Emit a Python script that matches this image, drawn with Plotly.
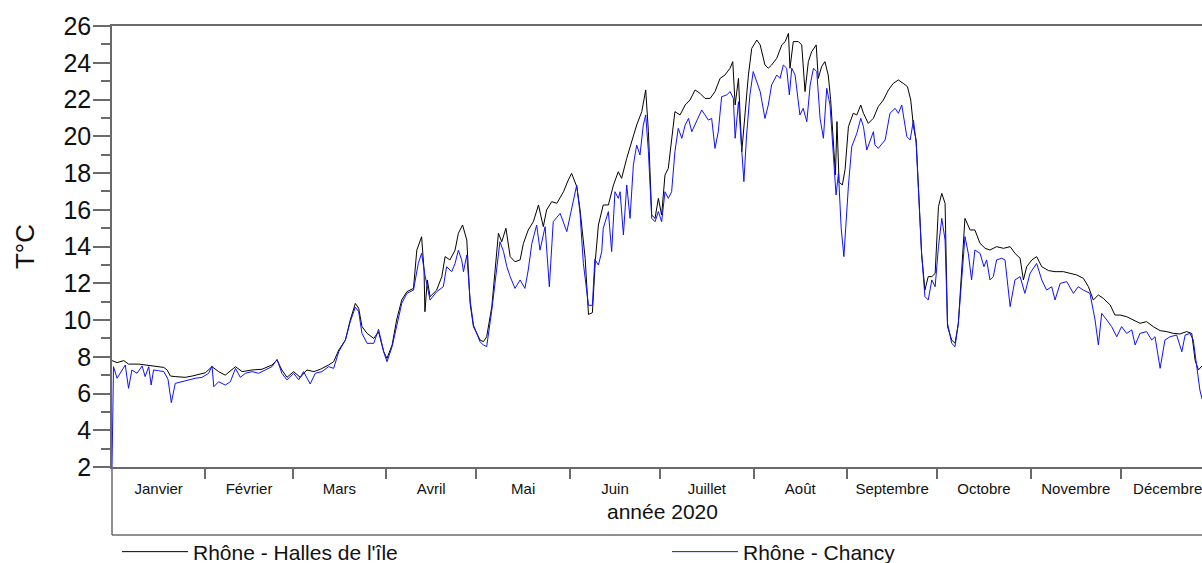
import pandas as pd
import plotly.graph_objects as go

# Rhône water temperature in 2020 at two stations.
# Days are counted from 1 January 2020 at 00:00 (0 = 1 Jan).
halles_day = [
    0, 1.7, 3.9, 5.5, 8.9, 11, 14.4, 17.2, 18.3, 19.4,
    21, 24.3, 26.6, 28.8, 31, 33.2, 35.4, 37.6, 39.8, 41,
    43.2, 46.5, 49.8, 53.1, 54.8, 56.4, 58.1, 60.3, 62.5, 64.7,
    67, 69.2, 71.9, 73.6, 75.3, 77.5, 79.1, 80.8, 81.9, 83,
    84.7, 86.9, 88.5, 90.2, 91.3, 93, 94.5, 96.2, 97.9, 100.1,
    101.2, 102.8, 103.6, 103.9, 104.7, 105.6, 107.8, 109.5, 110.6, 112.2,
    113.9, 115, 116.4, 117.8, 118.9, 120, 122.2, 123.3, 124.4, 126.1,
    127.2, 128.3, 129.4, 130.8, 132.2, 133.8, 135.5, 136.6, 138.2, 139.9,
    141.6, 143.2, 144.3, 146, 147.7, 149.9, 151.5, 152.6, 154.3, 155.4,
    157.1, 158.2, 159.5, 160.5, 161.5, 163.1, 164.8, 166.5, 168.1, 169.2,
    170.9, 172.6, 174.2, 175.9, 177.2, 178.1, 179.2, 180.3, 181.4, 182.5,
    183.6, 184.7, 185.8, 186.9, 188.6, 190.3, 191.9, 193.6, 195.2, 196.9,
    198.6, 200.2, 201.9, 203.5, 205.2, 206.1, 206.9, 208, 209.1, 210.2,
    211.3, 212.4, 214.1, 215.2, 216.8, 217.9, 219, 220.7, 222.4, 223.5,
    224.6, 225.1, 226.2, 227.9, 229, 230.1, 231.2, 232.3, 233.8, 234.5,
    235.6, 236.7, 237.8, 238.6, 239.5, 240.2, 240.7, 241.4, 242.5, 243.4,
    244.5, 246.1, 247.3, 248.6, 249.5, 251.1, 252.8, 254.4, 256.1, 257.8,
    259.4, 261.1, 262.7, 264.1, 265.2, 266.1, 267, 267.7, 268.8, 269.9,
    271, 272.2, 273.3, 274.4, 275.5, 276.6, 277.4, 278.8, 279.9, 281,
    282.1, 283.2, 284.9, 286.5, 288.2, 289.9, 291.5, 293.7, 296, 298.2,
    299.8, 301.5, 302.6, 303.7, 305.4, 307, 308.7, 310.9, 313.1, 315.9,
    318.1, 320.3, 322.5, 324.2, 325.8, 327.5, 329.1, 331.4, 333, 334.7,
    336.9, 339.1, 341.3, 343.5, 345.7, 348, 350.2, 352.4, 354.6, 356.8,
    358.5, 359.6, 360.7, 361.9,
]
halles_temp = [
    7.79, 7.68, 7.79, 7.6, 7.6, 7.55, 7.46, 7.42, 7.28, 6.95,
    6.92, 6.88, 6.95, 7.06, 7.13, 7.46, 7.19, 7.0, 7.28, 7.46,
    7.19, 7.28, 7.32, 7.55, 7.82, 7.28, 6.88, 7.19, 6.88, 7.28,
    7.19, 7.32, 7.55, 7.73, 8.37, 8.91, 10.0, 10.9, 10.64, 9.64,
    9.27, 9.0, 9.36, 8.28, 7.91, 8.64, 10.0, 11.09, 11.54, 11.72,
    13.8, 14.53, 12.72, 10.45, 12.18, 11.27, 11.63, 12.36, 13.45, 13.27,
    13.8, 14.72, 15.17, 14.35, 10.9, 9.64, 8.91, 8.82, 9.09, 10.72,
    12.72, 14.72, 14.26, 14.99, 13.45, 13.17, 13.27, 14.17, 14.9, 15.35,
    16.26, 15.08, 15.99, 16.44, 16.35, 16.98, 17.62, 17.98, 17.26, 16.0,
    13.35, 10.3, 10.4, 13.3, 15.17, 16.26, 16.26, 17.35, 18.07, 17.71,
    18.8, 19.71, 20.61, 21.34, 22.52, 20.25, 15.71, 15.53, 16.62, 15.71,
    17.89, 18.25, 19.71, 21.34, 21.16, 21.7, 21.97, 22.52, 22.34, 22.06,
    22.06, 22.43, 23.15, 23.33, 23.7, 24.06, 21.7, 23.15, 19.16, 21.16,
    23.33, 24.78, 25.24, 24.97, 23.88, 23.7, 23.88, 24.24, 24.97, 25.15,
    25.6, 23.7, 25.15, 25.15, 24.97, 22.43, 24.06, 24.6, 24.97, 23.15,
    23.79, 24.06, 23.33, 22.0, 19.6, 17.9, 20.8, 17.5, 17.35, 18.2,
    20.52, 21.25, 21.16, 21.7, 21.25, 20.7, 20.98, 21.61, 21.97, 22.52,
    22.88, 23.06, 22.88, 22.7, 21.97, 20.52, 19.8, 17.26, 13.63, 11.63,
    12.36, 12.36, 12.54, 16.17, 16.89, 16.35, 9.64, 8.91, 8.73, 9.82,
    12.9, 15.53, 14.9, 14.9, 14.17, 13.9, 13.81, 13.99, 13.9, 13.99,
    13.63, 13.36, 12.18, 12.9, 13.27, 13.45, 12.9, 12.69, 12.63, 12.63,
    12.54, 12.45, 12.27, 11.81, 11.09, 11.36, 11.18, 10.82, 10.27, 10.27,
    10.18, 10.0, 9.82, 9.91, 9.64, 9.42, 9.37, 9.27, 9.24, 9.37,
    9.27, 7.82, 7.28, 7.5,
]

chancy_day = [
    0, 0.5, 1.7, 3.3, 4.4, 5.5, 6.6, 8.3, 10, 11,
    12.2, 13, 13.8, 15.5, 17.2, 18.6, 19.7, 21, 23.2, 25.5,
    27.7, 29.9, 32.1, 33.2, 33.8, 35.4, 37.6, 39.3, 41, 42.6,
    44.3, 46.5, 48.7, 50.9, 53.1, 54.8, 56.4, 58.1, 60.3, 62,
    63.6, 65.8, 67.5, 69.7, 71.9, 73.6, 75.3, 77.5, 79.1, 80.8,
    81.9, 83, 84.7, 86.9, 88.5, 90.2, 91.3, 93, 94.5, 96.2,
    97.9, 100.1, 101.7, 102.8, 103.9, 105.6, 107.8, 110, 111.1, 112.8,
    113.9, 115, 116.1, 116.7, 117.8, 118.9, 120, 122.2, 123.3, 124.4,
    126.1, 127.7, 128.8, 130, 131.1, 132.2, 133.8, 135.5, 137.1, 138.2,
    139.4, 141, 142.1, 143.8, 145.2, 146.5, 148.8, 151, 152.6, 154.3,
    155.4, 156.5, 158.2, 159.5, 160.3, 161.5, 162.6, 163.1, 164.8, 165.9,
    167, 168.1, 168.7, 169.8, 170.9, 172, 173.1, 174.2, 175.3, 176.4,
    177.2, 178.1, 179.2, 180.3, 181.4, 182.5, 183.6, 184.7, 185.8, 186.9,
    188, 189.2, 190.3, 191.4, 192.5, 194.1, 195.8, 196.9, 198, 199.1,
    200.2, 201.3, 202.4, 204.1, 205.2, 206.3, 206.9, 208, 209.1, 209.8,
    210.7, 211.8, 212.9, 214.1, 215.2, 216.8, 217.9, 219, 220.7, 221.8,
    222.9, 224, 224.9, 225.7, 226.8, 228.4, 229.5, 230.7, 231.8, 232.9,
    234, 235.1, 236.2, 237.3, 238.4, 239.5, 240.4, 241.2, 242.1, 243,
    243.9, 244.5, 245.6, 247.3, 248.6, 249.5, 250.6, 251.7, 252.8, 253.3,
    254.4, 256.7, 258.3, 260, 261.1, 262.2, 263, 263.9, 265, 266.1,
    267, 267.7, 268.8, 269.9, 271, 272.2, 273.3, 274.4, 275.5, 276.6,
    277.4, 278.8, 279.9, 281, 282.1, 283.2, 284.3, 285.4, 286.5, 288.2,
    289.5, 290.4, 291.5, 292.6, 293.7, 295.4, 296.5, 298.2, 299.8, 301.5,
    303.1, 304.8, 307, 308.7, 310.3, 312, 313.1, 314.8, 317, 319.2,
    320.8, 322.5, 324.7, 326.4, 327.5, 328.6, 330.3, 331.9, 333.6, 335.2,
    336.9, 338.6, 339.7, 341.3, 343.5, 345.2, 346.3, 348, 349.6, 351.3,
    353.5, 355.2, 356.3, 357.9, 359, 360.1, 361.2, 361.9,
]
chancy_temp = [
    2.0, 7.46, 6.83, 7.28, 7.55, 6.28, 7.28, 7.1, 7.5, 6.92,
    7.46, 6.46, 7.28, 7.24, 7.19, 6.77, 5.5, 6.55, 6.64, 6.77,
    6.83, 6.88, 7.1, 7.5, 6.37, 6.64, 6.46, 6.64, 7.37, 6.88,
    7.1, 7.19, 7.1, 7.28, 7.46, 7.86, 7.1, 6.74, 7.1, 6.74,
    7.19, 6.52, 7.1, 7.19, 7.46, 7.37, 8.28, 8.91, 9.91, 10.7,
    10.45, 9.27, 8.73, 8.73, 9.49, 8.28, 7.73, 8.55, 9.73, 10.9,
    11.45, 11.63, 13.08, 13.63, 12.45, 11.09, 11.54, 11.81, 12.9, 12.63,
    13.08, 13.8, 13.27, 12.63, 13.54, 11.09, 9.73, 8.82, 8.64, 8.55,
    10.54, 12.72, 14.26, 13.72, 12.9, 12.36, 11.72, 12.18, 11.72, 12.72,
    14.17, 15.17, 13.8, 15.08, 11.81, 15.35, 15.8, 14.81, 15.99, 17.35,
    15.8, 13.08, 10.8, 10.8, 13.3, 12.99, 13.72, 14.99, 15.9, 13.72,
    16.98, 16.62, 16.98, 14.63, 17.35, 15.53, 18.44, 19.52, 18.98, 20.61,
    21.16, 19.16, 15.53, 15.35, 15.9, 15.35, 16.98, 16.62, 16.98, 19.16,
    20.43, 19.89, 20.61, 20.97, 20.25, 20.79, 21.43, 21.16, 20.88, 20.97,
    19.34, 20.25, 22.15, 22.25, 22.43, 22.06, 19.89, 21.88, 19.52, 17.53,
    20.07, 22.25, 23.52, 22.97, 22.43, 20.97, 21.7, 22.79, 23.33, 23.15,
    23.88, 23.7, 22.25, 23.7, 23.33, 21.16, 21.52, 20.79, 22.79, 23.7,
    23.52, 20.97, 19.89, 22.61, 21.7, 19.0, 16.8, 18.0, 15.0, 13.45,
    16.0, 17.3, 19.43, 20.16, 20.98, 20.52, 19.25, 19.8, 20.25, 19.53,
    19.34, 19.8, 21.25, 21.52, 21.25, 21.7, 20.98, 19.98, 19.8, 20.88,
    19.62, 17.26, 13.63, 11.27, 11.09, 12.18, 11.81, 13.99, 15.53, 14.35,
    9.82, 8.73, 8.55, 9.82, 12.36, 14.54, 13.63, 12.18, 13.81, 13.63,
    12.9, 13.27, 12.18, 12.36, 13.27, 13.36, 13.27, 10.73, 12.18, 12.36,
    11.45, 12.54, 13.08, 12.18, 11.63, 11.81, 11.09, 11.99, 12.09, 11.45,
    11.81, 11.63, 11.45, 10.0, 8.64, 10.36, 10.0, 9.64, 9.09, 9.64,
    9.27, 9.46, 8.64, 9.27, 9.37, 8.91, 9.09, 7.37, 8.91, 9.09,
    9.18, 8.27, 9.18, 9.27, 8.91, 7.46, 6.19, 5.7,
]

month_names = [
    "Janvier", "Février", "Mars", "Avril", "Mai", "Juin",
    "Juillet", "Août", "Septembre", "Octobre", "Novembre", "Décembre",
]

year_start = pd.Timestamp("2020-01-01")
last_visible_day = 361.9


def to_dates(days):
    return [year_start + pd.Timedelta(days=d) for d in days]


month_starts = pd.date_range("2020-01-01", periods=13, freq="MS")
month_mids = [a + (b - a) / 2 for a, b in zip(month_starts[:-1], month_starts[1:])]

AXIS_GREY = "#6a6a6a"
FONT = "Liberation Sans, Arial, sans-serif"
PLOT_LEFT, PLOT_RIGHT, PLOT_TOP, PLOT_BOTTOM = 112, 1202, 26, 467
PLOT_W = PLOT_RIGHT - PLOT_LEFT
PLOT_H = PLOT_BOTTOM - PLOT_TOP


def px_x(px):
    return (px - PLOT_LEFT) / PLOT_W


def px_y(py):
    return (PLOT_BOTTOM - py) / PLOT_H


fig = go.Figure()
fig.add_trace(go.Scatter(
    x=to_dates(halles_day), y=halles_temp, mode="lines",
    name="Rhône - Halles de l'île",
    line=dict(color="#000000", width=1),
    legend="legend",
))
fig.add_trace(go.Scatter(
    x=to_dates(chancy_day), y=chancy_temp, mode="lines",
    name="Rhône - Chancy",
    line=dict(color="#1010ff", width=1),
    legend="legend2",
))

# frame below the axis that holds the month names
box_bottom = px_y(535)
fig.add_shape(type="line", xref="paper", yref="paper", x0=0, x1=0, y0=0, y1=box_bottom,
              line=dict(color=AXIS_GREY, width=1.5))
fig.add_shape(type="line", xref="paper", yref="paper", x0=0, x1=1, y0=box_bottom, y1=box_bottom,
              line=dict(color=AXIS_GREY, width=1.5))

fig.add_annotation(text="année 2020", xref="paper", yref="paper",
                   x=px_x(662), y=px_y(512),
                   xanchor="center", yanchor="middle", showarrow=False,
                   font=dict(size=21, family=FONT, color="#111"))

legend_style = dict(orientation="h", xanchor="left", y=px_y(552), yanchor="middle",
                    font=dict(size=21, family=FONT, color="#111"),
                    bgcolor="rgba(0,0,0,0)", borderwidth=0, itemwidth=66)

fig.update_layout(
    width=1202, height=563,
    margin=dict(l=PLOT_LEFT, r=1202 - PLOT_RIGHT, t=PLOT_TOP, b=563 - PLOT_BOTTOM,
                pad=0, autoexpand=False),
    paper_bgcolor="white", plot_bgcolor="white",
    font=dict(family=FONT, color="#111"),
    showlegend=True,
    legend=dict(x=px_x(117), **legend_style),
    legend2=dict(x=px_x(667), **legend_style),
    xaxis=dict(
        type="date",
        range=[year_start, year_start + pd.Timedelta(days=last_visible_day)],
        showgrid=False, zeroline=False,
        showline=True, linecolor=AXIS_GREY, linewidth=1.5, mirror=True,
        tickmode="array", tickvals=month_mids, ticktext=month_names,
        ticks="", ticklabelstandoff=7, ticklabeloverflow="allow",
        tickfont=dict(size=15, family=FONT, color="#111"),
        minor=dict(tickmode="array", tickvals=list(month_starts[1:12]),
                   ticks="outside", ticklen=10, tickwidth=1.5, tickcolor=AXIS_GREY,
                   showgrid=False),
    ),
    yaxis=dict(
        range=[2, 26], tick0=2, dtick=2,
        showgrid=False, zeroline=False,
        showline=True, linecolor=AXIS_GREY, linewidth=1.5,
        ticks="outside", ticklen=17, tickwidth=1.5, tickcolor=AXIS_GREY,
        ticklabelstandoff=-3,
        tickfont=dict(size=25, family=FONT, color="#111"),
        minor=dict(dtick=1, ticks="outside", ticklen=9, tickwidth=1.5,
                   tickcolor=AXIS_GREY, showgrid=False),
        title=dict(text="T°C", font=dict(size=26, family=FONT, color="#111"), standoff=21),
    ),
)

fig.write_html("out.html", config={"displayModeBar": False})
